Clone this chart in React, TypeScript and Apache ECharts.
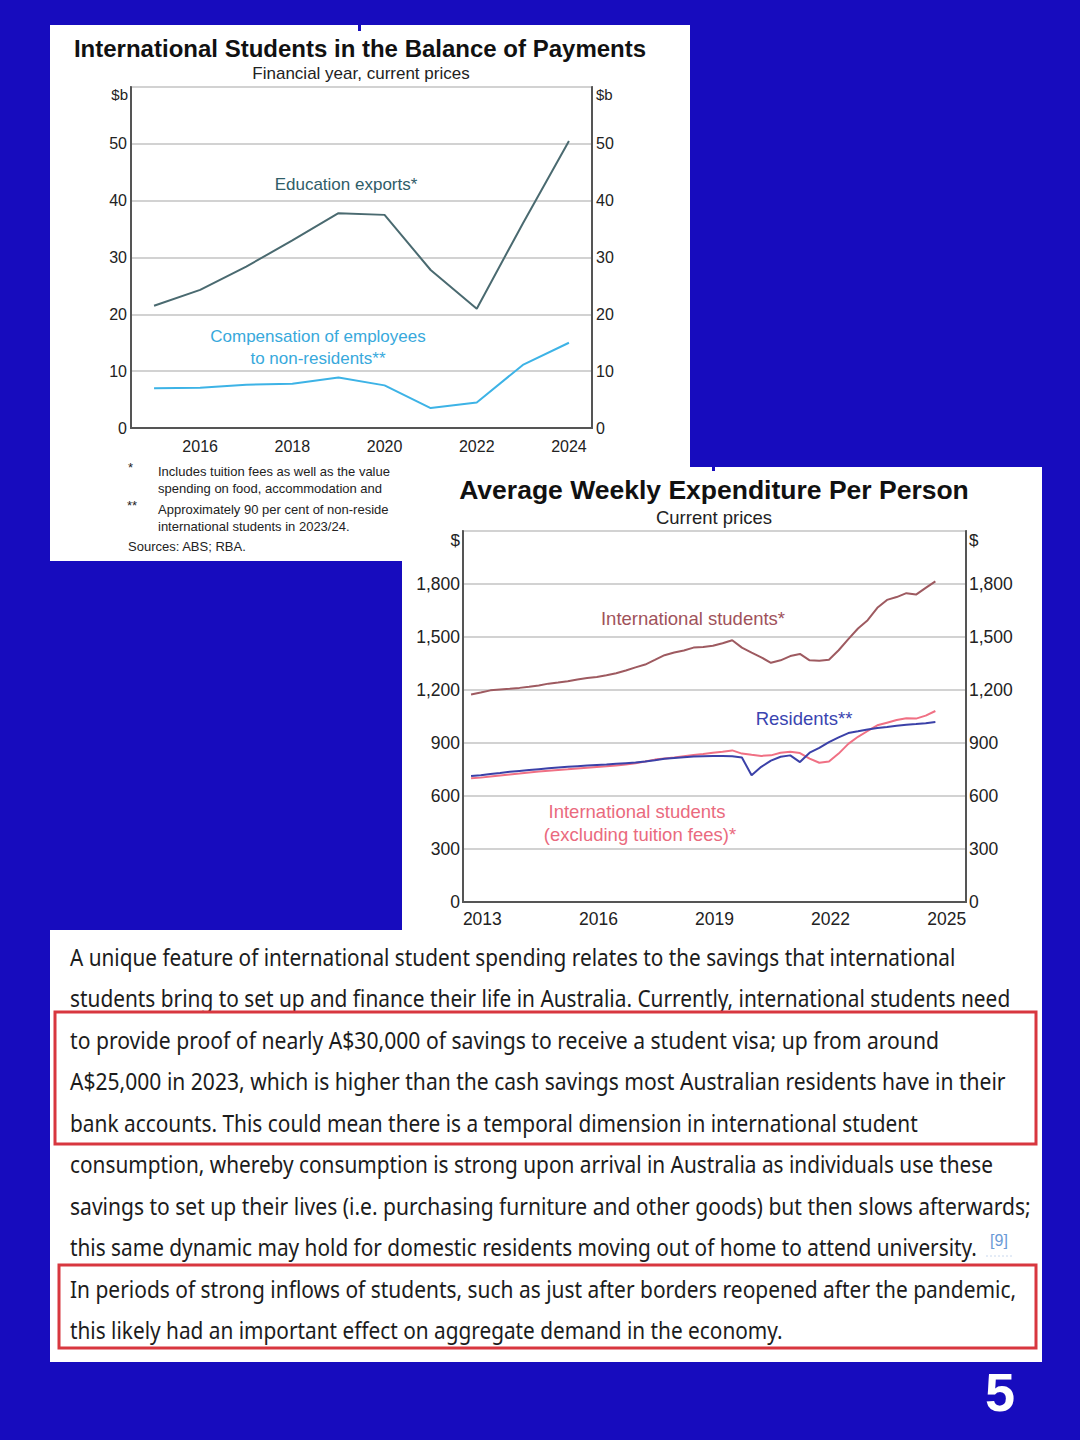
import React, { useEffect, useRef } from "react";
import * as echarts from "echarts";

const FONT = '"Liberation Sans", Arial, sans-serif';
const PARA_FAMILY = '"Noto Sans", "Liberation Sans", sans-serif';

// ---------- Chart 1: International Students in the Balance of Payments ----------
const bopYears = ["2015", "2016", "2017", "2018", "2019", "2020", "2021", "2022", "2023", "2024"];
const educationExports = [21.5, 24.3, 28.4, 33.0, 37.8, 37.5, 27.8, 21.0, 36.0, 50.5];
const compensationOfEmployees = [7.0, 7.1, 7.6, 7.8, 8.9, 7.5, 3.5, 4.5, 11.1, 15.0];
const bopAxisMax = 60;
const bopAxisStep = 10;
const bopUnit = "$b";

// ---------- Chart 2: Average Weekly Expenditure Per Person ----------
const expYears = ["2013", "2014", "2015", "2016", "2017", "2018", "2019", "2020", "2021", "2022", "2023", "2024", "2025"];
const quarters = [
  "2013-03", "2013-06", "2013-09", "2013-12",
  "2014-03", "2014-06", "2014-09", "2014-12",
  "2015-03", "2015-06", "2015-09", "2015-12",
  "2016-03", "2016-06", "2016-09", "2016-12",
  "2017-03", "2017-06", "2017-09", "2017-12",
  "2018-03", "2018-06", "2018-09", "2018-12",
  "2019-03", "2019-06", "2019-09", "2019-12",
  "2020-03", "2020-06", "2020-09", "2020-12",
  "2021-03", "2021-06", "2021-09", "2021-12",
  "2022-03", "2022-06", "2022-09", "2022-12",
  "2023-03", "2023-06", "2023-09", "2023-12",
  "2024-03", "2024-06", "2024-09", "2024-12",
  "2025-03",
];
const intlStudents = [
  1175, 1186, 1198, 1203, 1207, 1212, 1218, 1226, 1236, 1242, 1250, 1260,
  1268, 1274, 1283, 1295, 1310, 1328, 1344, 1370, 1397, 1412, 1424, 1440,
  1444, 1450, 1465, 1482, 1440, 1412, 1385, 1354, 1368, 1392, 1404, 1368,
  1366, 1371, 1425, 1488, 1548, 1595, 1665, 1710, 1726, 1748, 1740, 1778,
  1815,
];
const residents = [
  713, 718, 724, 730, 737, 742, 747, 752, 757, 762, 766, 769,
  772, 775, 778, 782, 786, 790, 795, 802, 811, 815, 819, 823,
  825, 826, 826, 825, 818, 717, 765, 800, 822, 830, 792, 845,
  872, 905, 932, 956, 966, 977, 985, 991, 998, 1003, 1007, 1012,
  1019,
];
const intlExTuition = [
  700, 704, 710, 716, 722, 727, 733, 738, 743, 747, 751, 756,
  760, 764, 768, 773, 778, 785, 795, 806, 812, 818, 825, 832,
  838, 845, 850, 858, 840, 833, 827, 830, 845, 850, 843, 812,
  788, 795, 840, 895, 935, 968, 1000, 1015, 1030, 1040, 1038, 1055,
  1081,
];
const expAxisMax = 2100;
const expAxisStep = 300;
const expUnit = "$";

// ---------- Footnotes of chart 1 (partly hidden behind chart 2 in the picture) ----------
const footnoteLines = [
  "Includes tuition fees as well as the value",
  "spending on food, accommodation and",
  "Approximately 90 per cent of non-reside",
  "international students in 2023/24.",
];
const sourcesLine = "Sources: ABS; RBA.";

// ---------- Text block ----------
const paragraphLines = [
  "A unique feature of international student spending relates to the savings that international",
  "students bring to set up and finance their life in Australia. Currently, international students need",
  "to provide proof of nearly A$30,000 of savings to receive a student visa; up from around",
  "A$25,000 in 2023, which is higher than the cash savings most Australian residents have in their",
  "bank accounts. This could mean there is a temporal dimension in international student",
  "consumption, whereby consumption is strong upon arrival in Australia as individuals use these",
  "savings to set up their lives (i.e. purchasing furniture and other goods) but then slows afterwards;",
  "this same dynamic may hold for domestic residents moving out of home to attend university.",
  "In periods of strong inflows of students, such as just after borders reopened after the pandemic,",
  "this likely had an important effect on aggregate demand in the economy.",
];
const footnoteRef = "[9]";
const pageNumber = "5";

// layout (styles)
const lineRightEdges = [956, 1011, 939, 1006, 918, 993, 1031, 977, 1017, 783];
const lineCenters = [957, 998, 1040, 1081, 1123, 1164, 1206, 1247, 1289, 1330];
const footnoteY = [471, 488, 509, 526];

const BLUE_BG = "#170cbe";

const quarterToYear = (q: string) => {
  const [y, m] = q.split("-").map(Number);
  return y + (m - 0.5) / 12;
};

function measure(text: string, font: string) {
  const ctx = document.createElement("canvas").getContext("2d");
  if (!ctx) return text.length * 10;
  ctx.font = font;
  return ctx.measureText(text).width;
}

function txt(text: string, x: number, y: number, o: any = {}) {
  const size = o.size ?? 14;
  const weight = o.weight ?? "normal";
  const family = o.family ?? FONT;
  return {
    type: "text",
    x,
    y,
    z: o.z ?? 2,
    scaleX: o.scaleX ?? 1,
    silent: true,
    style: {
      text,
      x: 0,
      y: 0,
      fill: o.color ?? "#222",
      font: `${weight} ${size}px ${family}`,
      align: o.align ?? "left",
      verticalAlign: "middle",
      textAlign: o.align ?? "left",
      textVerticalAlign: "middle",
    },
  };
}

export default function App() {
  const ref = useRef<HTMLDivElement>(null);

  useEffect(() => {
    document.body.style.margin = "0";
    if (!ref.current) return;
    const chart = echarts.init(ref.current, undefined, { renderer: "svg" });

    const paraSize = 24;
    const paraFont = `normal ${paraSize}px ${PARA_FAMILY}`;
    const paraLeft = 70;
    const paragraphEls = paragraphLines.map((line, i) => {
      const w = measure(line, paraFont);
      const sx = (lineRightEdges[i] - paraLeft) / w;
      return txt(line, paraLeft, lineCenters[i], {
        size: paraSize,
        family: PARA_FAMILY,
        color: "#1c1c1c",
        scaleX: sx,
        z: 4,
      });
    });

    const footnoteEls = footnoteLines.map((line, i) => txt(line, 158, footnoteY[i], { size: 13 }));

    const axisLabelStyle = (size: number) => ({
      color: "#222",
      fontSize: size,
      fontFamily: FONT,
    });

    const graphic: any[] = [
      // panel 1
      { type: "rect", z: 1, silent: true, shape: { x: 50, y: 25, width: 640, height: 536 }, style: { fill: "#fff" } },
      { type: "rect", z: 2, silent: true, shape: { x: 358, y: 25, width: 3, height: 6 }, style: { fill: BLUE_BG } },
      txt("International Students in the Balance of Payments", 360, 48, { size: 24, weight: "bold", align: "center", color: "#111" }),
      txt("Financial year, current prices", 361, 73, { size: 17, align: "center" }),
      txt(bopUnit, 128, 94, { size: 15, align: "right" }),
      txt(bopUnit, 596, 94, { size: 15 }),
      txt("Education exports*", 346, 184, { size: 17, align: "center", color: "#2f5d68" }),
      txt("Compensation of employees", 318, 336, { size: 17, align: "center", color: "#38a9dc" }),
      txt("to non-residents**", 318, 358, { size: 17, align: "center", color: "#38a9dc" }),
      txt("*", 128, 467, { size: 13 }),
      txt("**", 127, 505, { size: 13 }),
      ...footnoteEls,
      txt(sourcesLine, 128, 546, { size: 13 }),
      // panel 2
      { type: "rect", z: 3, silent: true, shape: { x: 402, y: 467, width: 640, height: 464 }, style: { fill: "#fff" } },
      { type: "rect", z: 4, silent: true, shape: { x: 712, y: 467, width: 3, height: 4 }, style: { fill: BLUE_BG } },
      txt("Average Weekly Expenditure Per Person", 714, 490, { size: 26.5, weight: "bold", align: "center", color: "#111", z: 4 }),
      txt("Current prices", 714, 517, { size: 18.5, align: "center", z: 4 }),
      txt(expUnit, 460, 540, { size: 17, align: "right", z: 4 }),
      txt(expUnit, 969, 540, { size: 17, z: 4 }),
      txt("International students*", 693, 618, { size: 18.5, align: "center", color: "#a0525a", z: 4 }),
      txt("Residents**", 804, 718, { size: 18.5, align: "center", color: "#3a44b0", z: 4 }),
      txt("International students", 637, 811, { size: 18.5, align: "center", color: "#ea6a7e", z: 4 }),
      txt("(excluding tuition fees)*", 640, 834, { size: 18.5, align: "center", color: "#ea6a7e", z: 4 }),
      // panel 3
      { type: "rect", z: 3, silent: true, shape: { x: 50, y: 930, width: 992, height: 432 }, style: { fill: "#fff" } },
      ...paragraphEls,
      txt(footnoteRef, 999, 1240, { size: 16, align: "center", color: "#6b9ad6", z: 4 }),
      { type: "line", z: 4, silent: true, shape: { x1: 986, y1: 1256, x2: 1012, y2: 1256 }, style: { stroke: "#c9d8ee", lineWidth: 1, lineDash: [2, 2] } },
      { type: "rect", z: 5, silent: true, shape: { x: 55, y: 1012, width: 981, height: 132 }, style: { fill: "none", stroke: "#d8373f", lineWidth: 3 } },
      { type: "rect", z: 5, silent: true, shape: { x: 59, y: 1265, width: 977, height: 83 }, style: { fill: "none", stroke: "#d8373f", lineWidth: 3 } },
      txt(pageNumber, 1000, 1392, { size: 54, weight: "bold", align: "center", color: "#ffffff", z: 4 }),
    ];

    const option: any = {
      animation: false,
      backgroundColor: BLUE_BG,
      textStyle: { fontFamily: FONT },
      graphic,
      grid: [
        { left: 131, top: 87, width: 461, height: 341, show: true, z: 10, backgroundColor: "transparent", borderColor: "#555", borderWidth: 1.5 },
        { left: 463, top: 531, width: 503, height: 371, show: true, z: 10, backgroundColor: "transparent", borderColor: "#555", borderWidth: 1.5 },
      ],
      xAxis: [
        {
          type: "category",
          gridIndex: 0,
          data: bopYears,
          boundaryGap: true,
          z: 10,
          axisLine: { lineStyle: { color: "#555", width: 2 } },
          axisTick: { inside: true, length: 8, interval: 0, alignWithLabel: false, lineStyle: { color: "#555", width: 1.5 } },
          axisLabel: { ...axisLabelStyle(16), margin: 10, interval: (i: number) => i % 2 === 1 },
          splitLine: { show: false },
        },
        {
          type: "category",
          gridIndex: 1,
          data: expYears,
          boundaryGap: true,
          z: 10,
          axisLine: { lineStyle: { color: "#555", width: 2 } },
          axisTick: { inside: true, length: 8, interval: 0, alignWithLabel: false, lineStyle: { color: "#555", width: 1.5 } },
          axisLabel: { ...axisLabelStyle(17.5), margin: 8, interval: 2 },
          splitLine: { show: false },
        },
        {
          type: "value",
          gridIndex: 1,
          min: 2013,
          max: 2026,
          show: false,
        },
      ],
      yAxis: [
        {
          type: "value",
          gridIndex: 0,
          position: "left",
          min: 0,
          max: bopAxisMax,
          interval: bopAxisStep,
          z: 10,
          axisLine: { show: true, lineStyle: { color: "#555", width: 2 } },
          axisTick: { show: false },
          axisLabel: { ...axisLabelStyle(16), margin: 4, formatter: (v: number) => (v >= bopAxisMax ? "" : String(v)) },
          splitLine: { show: true, lineStyle: { color: "#d2d2d2", width: 2 } },
        },
        {
          type: "value",
          gridIndex: 0,
          position: "right",
          min: 0,
          max: bopAxisMax,
          interval: bopAxisStep,
          z: 10,
          axisLine: { show: true, lineStyle: { color: "#555", width: 2 } },
          axisTick: { show: false },
          axisLabel: { ...axisLabelStyle(16), margin: 4, formatter: (v: number) => (v >= bopAxisMax ? "" : String(v)) },
          splitLine: { show: false },
        },
        {
          type: "value",
          gridIndex: 1,
          position: "left",
          min: 0,
          max: expAxisMax,
          interval: expAxisStep,
          z: 10,
          axisLine: { show: true, lineStyle: { color: "#555", width: 2 } },
          axisTick: { show: false },
          axisLabel: { ...axisLabelStyle(17.5), margin: 3, formatter: (v: number) => (v >= expAxisMax ? "" : v.toLocaleString("en-US")) },
          splitLine: { show: true, lineStyle: { color: "#d2d2d2", width: 2 } },
        },
        {
          type: "value",
          gridIndex: 1,
          position: "right",
          min: 0,
          max: expAxisMax,
          interval: expAxisStep,
          z: 10,
          axisLine: { show: true, lineStyle: { color: "#555", width: 2 } },
          axisTick: { show: false },
          axisLabel: { ...axisLabelStyle(17.5), margin: 3, formatter: (v: number) => (v >= expAxisMax ? "" : v.toLocaleString("en-US")) },
          splitLine: { show: false },
        },
      ],
      series: [
        {
          name: "Education exports",
          type: "line",
          xAxisIndex: 0,
          yAxisIndex: 0,
          z: 12,
          data: educationExports,
          showSymbol: false,
          lineStyle: { color: "#4a6a70", width: 2 },
        },
        {
          name: "Compensation of employees to non-residents",
          type: "line",
          xAxisIndex: 0,
          yAxisIndex: 0,
          z: 12,
          data: compensationOfEmployees,
          showSymbol: false,
          lineStyle: { color: "#3db3e6", width: 2 },
        },
        {
          name: "International students",
          type: "line",
          xAxisIndex: 2,
          yAxisIndex: 2,
          z: 12,
          data: quarters.map((q, i) => [quarterToYear(q), intlStudents[i]]),
          showSymbol: false,
          lineStyle: { color: "#9e5a60", width: 2 },
        },
        {
          name: "International students (excluding tuition fees)",
          type: "line",
          xAxisIndex: 2,
          yAxisIndex: 2,
          z: 12,
          data: quarters.map((q, i) => [quarterToYear(q), intlExTuition[i]]),
          showSymbol: false,
          lineStyle: { color: "#f07084", width: 2 },
        },
        {
          name: "Residents",
          type: "line",
          xAxisIndex: 2,
          yAxisIndex: 2,
          z: 13,
          data: quarters.map((q, i) => [quarterToYear(q), residents[i]]),
          showSymbol: false,
          lineStyle: { color: "#3b41a8", width: 2 },
        },
      ],
    };

    chart.setOption(option);
    return () => chart.dispose();
  }, []);

  return <div ref={ref} style={{ width: 1080, height: 1440 }} />;
}
